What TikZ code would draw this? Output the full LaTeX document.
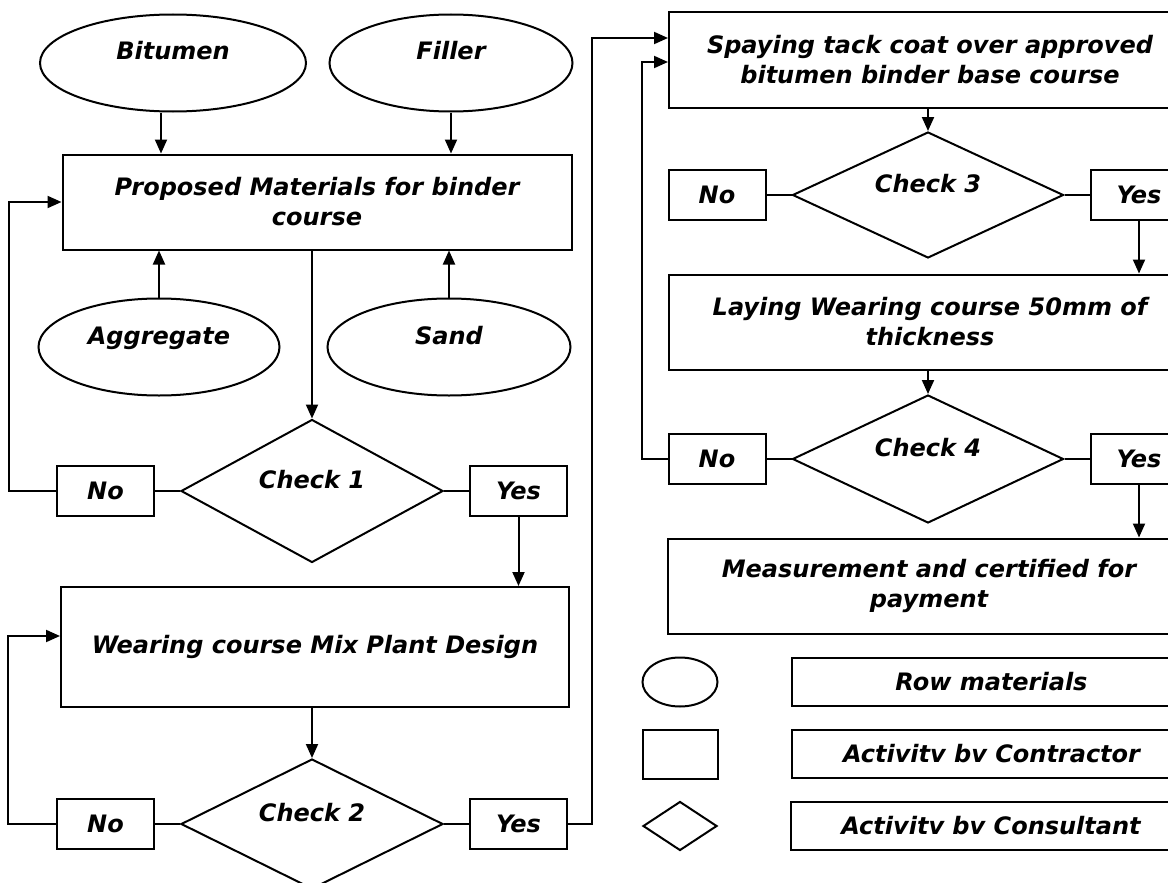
\documentclass[tikz,border=0pt]{standalone}
\usepackage{fontspec}
\setmainfont{DejaVu Sans}
\usetikzlibrary{positioning,shapes.geometric,arrows.meta}

\begin{document}
\begin{tikzpicture}[
		x=1pt, y=-1pt,
		line width=2pt,
		every node/.style={font=\bfseries\itshape\fontsize{24}{30}\selectfont, inner sep=0pt},
		raw/.style={ % 原料
				draw, ellipse, minimum width=243pt, minimum height=97pt,
				text height=17pt, text depth=23pt
			},
		act/.style={draw, align=center, minimum width=522pt, minimum height=95pt},
		chk/.style={ % 咨询工程师检查
				draw, diamond, aspect=2, minimum width=262pt, minimum height=143pt,
				text height=17pt, text depth=23pt
			},
		ans/.style={draw, minimum width=97pt, minimum height=50pt},
		key/.style={draw, minimum width=400pt, minimum height=48pt},
		flow/.style={-{Triangle[length=14pt,width=12pt]}}
	]
	\useasboundingbox (0,0) rectangle (1168,883);
	\clip (0,0) rectangle (1168,883);
	% 原料
	\node[raw, minimum width=266pt] (bit) at (173,63) {Bitumen};
	\node[raw] (fil) at (451,63) {Filler};
	\node[raw, minimum width=241pt] (agg) at (159,347) {Aggregate};
	\node[raw] (snd) at (449,347) {Sand};
	% 承包商的工作
	\node[act, minimum width=509pt] (prop) at (317,202) {Proposed Materials for binder\\course};
	\node[act, minimum width=508pt, minimum height=120pt] (wear) at (315,647) {Wearing course Mix Plant Design};
	\node[act] (spray) at (930,60) {Spaying tack coat over approved\\bitumen binder base course};
	\node[act] (lay) at (930,322) {Laying Wearing course 50mm of\\thickness};
	\node[act] (meas) at (929,586) {Measurement and certified for\\payment};
	% 检查
	\node[chk] (c1) at (312,491) {Check 1};
	\node[chk, minimum height=130pt] (c2) at (312,824) {Check 2};
	\node[chk, minimum width=271pt, minimum height=126pt] (c3) at (928,195) {Check 3};
	\node[chk, minimum width=271pt, minimum height=128pt] (c4) at (928,459) {Check 4};
	% 是/否
	\node[ans, left=25pt of c1] (no1) {No};
	\node[ans, right=25pt of c1] (yes1) {Yes};
	\node[ans, left=25pt of c2] (no2) {No};
	\node[ans, right=25pt of c2] (yes2) {Yes};
	\node[ans, left=25pt of c3] (no3) {No};
	\node[ans, right=25pt of c3] (yes3) {Yes};
	\node[ans, left=25pt of c4] (no4) {No};
	\node[ans, right=25pt of c4] (yes4) {Yes};
	% 图例
	\node[draw, ellipse, minimum width=75pt, minimum height=49pt] (lgE) at (680,682) {};
	\node[draw, minimum width=75pt, minimum height=49pt] (lgR) at (680,754) {};
	\node[draw, diamond, minimum width=74pt, minimum height=49pt] (lgD) at (680,826) {};
	\node[key, right=72pt of lgE] (lg1) {Row materials};
	\node[key, right=72pt of lgR] (lg2) {Activitv bv Contractor};
	\node[key, right=72pt of lgD] (lg3) {Activitv bv Consultant};

	% 连线
	\coordinate (bitout) at ([xshift=-12pt]bit.south);
	\draw[flow] (bitout) -- (bitout |- prop.north);
	\draw[flow] (fil) -- (fil |- prop.north);
	\draw[flow] (agg) -- (agg |- prop.south);
	\draw[flow] (snd) -- (snd |- prop.south);
	\draw[flow] (prop.south -| c1.north) -- (c1.north);
	\draw (c1) -- (no1);
	\draw (c1) -- (yes1);
	\draw[flow] (no1.west) -- ++(-47,0) |- (prop.west);
	\draw[flow] (yes1) -- (yes1 |- wear.north);
	\draw[flow] (wear.south -| c2.north) -- (c2.north);
	\draw (c2) -- (no2);
	\draw (c2) -- (yes2);
	\draw[flow] (no2.west) -- ++(-48,0) |- ([yshift=11pt]wear.west);
	\draw[flow] (yes2.east) -- ++(24,0) |- ([yshift=22pt]spray.west);
	\draw[flow] (spray.south -| c3.north) -- (c3.north);
	\draw (c3) -- (no3);
	\draw (c3) -- (yes3);
	\draw[flow] (yes3) -- (yes3 |- lay.north);
	\draw[flow] (lay.south -| c4.north) -- (c4.north);
	\draw (c4) -- (no4);
	\draw (c4) -- (yes4);
	\draw[flow] (no4.west) -- ++(-26,0) |- ([yshift=-2pt]spray.west);
	\draw[flow] (yes4) -- (yes4 |- meas.north);
\end{tikzpicture}
\end{document}
